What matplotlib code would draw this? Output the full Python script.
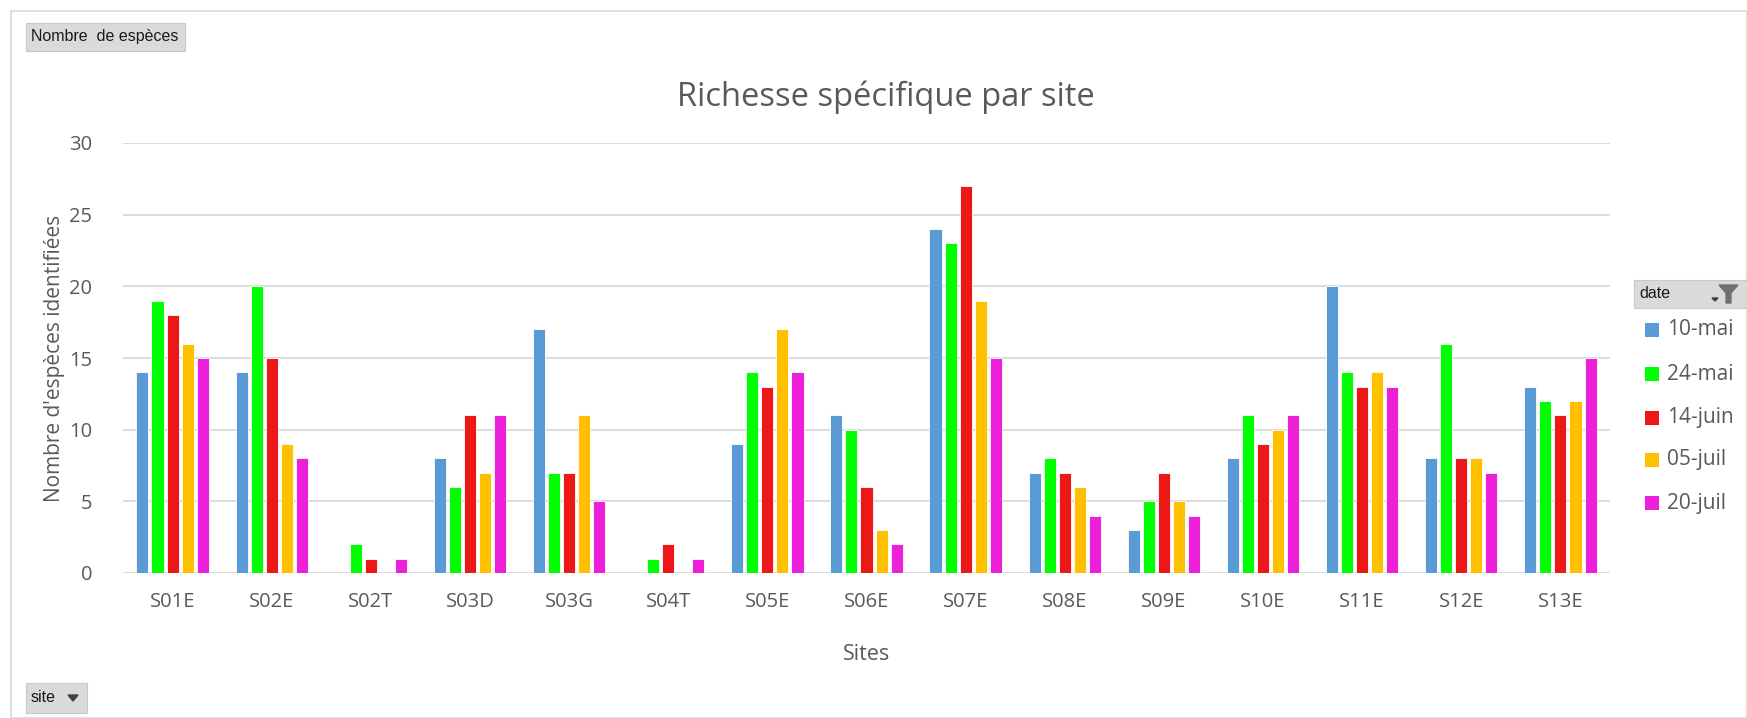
import matplotlib
matplotlib.use("Agg")
import matplotlib.pyplot as plt
from matplotlib.patches import Rectangle, Polygon
import numpy as np

plt.rcParams['font.family'] = ['Open Sans', 'DejaVu Sans']

sites = ["S01E", "S02E", "S02T", "S03D", "S03G", "S04T", "S05E", "S06E",
         "S07E", "S08E", "S09E", "S10E", "S11E", "S12E", "S13E"]
dates = ["10-mai", "24-mai", "14-juin", "05-juil", "20-juil"]
v_10mai = [14, 14, 0, 8, 17, 0, 9, 11, 24, 7, 3, 8, 20, 8, 13]
v_24mai = [19, 20, 2, 6, 7, 1, 14, 10, 23, 8, 5, 11, 14, 16, 12]
v_14juin = [18, 15, 1, 11, 7, 2, 13, 6, 27, 7, 7, 9, 13, 8, 11]
v_05juil = [16, 9, 0, 7, 11, 0, 17, 3, 19, 6, 5, 10, 14, 8, 12]
v_20juil = [15, 8, 1, 11, 5, 1, 14, 2, 15, 4, 4, 11, 13, 7, 15]
series = [v_10mai, v_24mai, v_14juin, v_05juil, v_20juil]
colors = ["#5B9BD5", "#00FF00", "#EC1818", "#FFC000", "#EE1FD9"]

W, H = 1747, 718
fig = plt.figure(figsize=(W / 100, H / 100), dpi=100)

def fx(px):
    return px / W

def fy(py):
    return 1 - py / H

ax = fig.add_axes([fx(123), fy(573), fx(1610) - fx(123), fy(143) - fy(573)])

x = np.arange(len(sites))
step = 0.152
bw = 0.122
for i, (vals, c, lab) in enumerate(zip(series, colors, dates)):
    ax.bar(x + (i - 2) * step, vals, width=bw, color=c, label=lab,
           edgecolor="white", linewidth=0.6, zorder=3)

ax.set_xlim(-0.5, len(sites) - 0.5)
ax.set_ylim(0, 30)
ax.set_yticks(range(0, 31, 5))
ax.set_xticks(x)
ax.set_xticklabels(sites)
ax.grid(axis="y", color="#D9D9D9", linewidth=1.3, zorder=0)
for s in ax.spines.values():
    s.set_visible(False)
ax.tick_params(axis="both", length=0, labelsize=14.5, labelcolor="#595959")
ax.tick_params(axis="x", pad=14)
ax.tick_params(axis="y", pad=22)
ax.set_ylabel("Nombre d'espèces identifiées", fontsize=15, color="#595959", labelpad=3)
ax.set_xlabel("Sites", fontsize=15.5, color="#595959", labelpad=23)

fig.text(fx(886), fy(97), "Richesse spécifique par site", fontsize=23.5,
         color="#595959", ha="center", va="center")

# outer border
fig.add_artist(Rectangle((fx(11), fy(718)), fx(1747) - fx(11), fy(11) - fy(718),
                         transform=fig.transFigure, fill=False,
                         edgecolor="#D9D9D9", linewidth=1.2))

# buttons
def button(x0, y0, x1, y1, text, size=11.5):
    fig.add_artist(Rectangle((fx(x0), fy(y1)), fx(x1) - fx(x0), fy(y0) - fy(y1),
                             transform=fig.transFigure, facecolor="#DADADA",
                             edgecolor="#C8C8C8", linewidth=0.8))
    fig.text(fx(x0 + 5), fy((y0 + y1) / 2), text, fontsize=size, color="#1a1a1a",
             ha="left", va="center", family=["Liberation Sans", "DejaVu Sans"])

button(26, 23, 185, 51, "Nombre  de espèces")
button(26, 683, 87, 713, "site")
fig.add_artist(Polygon([[fx(68), fy(695)], [fx(78), fy(695)], [fx(73), fy(701)]],
                       closed=True, transform=fig.transFigure, color="#404040"))

# legend header
button(1634, 280, 1747, 308, "date")
fig.add_artist(Polygon([[fx(1712), fy(298)], [fx(1718), fy(298)], [fx(1715), fy(301)]],
                       closed=True, transform=fig.transFigure, color="#404040"))
fig.add_artist(Polygon([[fx(1719), fy(285)], [fx(1738), fy(285)], [fx(1731), fy(293)],
                        [fx(1731), fy(303)], [fx(1726), fy(303)], [fx(1726), fy(293)]],
                       closed=True, transform=fig.transFigure, color="#707070"))

# legend entries
ys = [330, 374, 418, 460, 503]
for lab, c, yy in zip(dates, colors, ys):
    fig.add_artist(Rectangle((fx(1645), fy(yy + 7)), fx(14), fy(0) - fy(14),
                             transform=fig.transFigure, facecolor=c, edgecolor="none"))
    fig.text(fx(1667), fy(yy), lab, fontsize=15, color="#595959", ha="left", va="center")

fig.savefig("out.png", dpi=100, facecolor="white")
